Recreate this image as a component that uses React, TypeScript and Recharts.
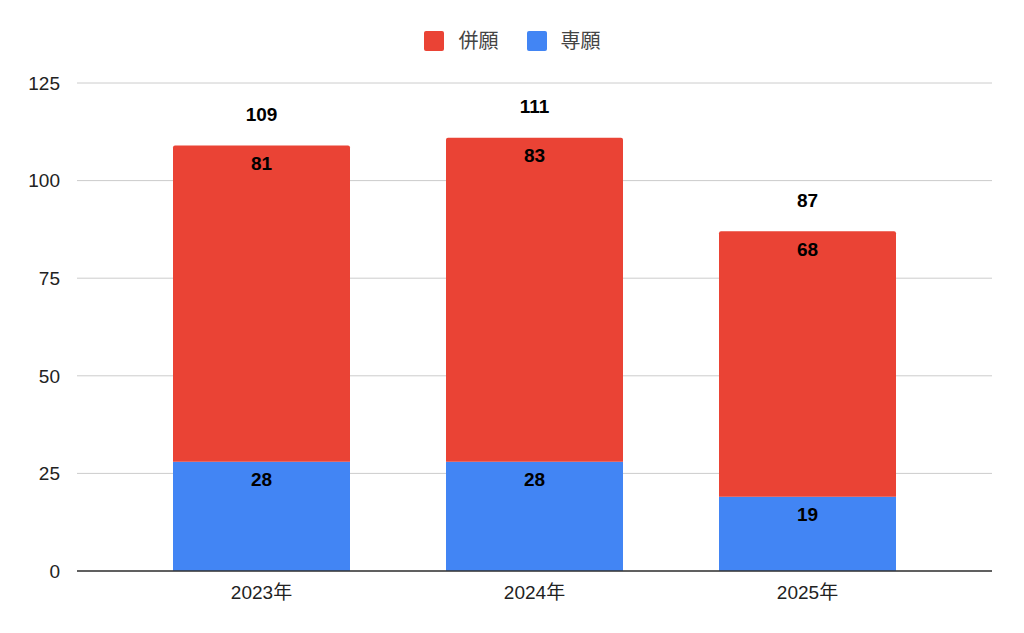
import { BarChart, Bar, XAxis, YAxis, CartesianGrid, LabelList } from 'recharts';

const years = ['2023年', '2024年', '2025年'];
const senGan = [28, 28, 19];
const heiGan = [81, 83, 68];
const yTicks = [0, 25, 50, 75, 100, 125];

const data = years.map((year, i) => ({
  year,
  senGan: senGan[i],
  heiGan: heiGan[i],
  total: senGan[i] + heiGan[i],
}));

const RED = '#EA4335';
const BLUE = '#4285F4';
const FONT = '"Liberation Sans", Arial, "Noto Sans CJK JP", sans-serif';

const LegendBox = () => (
  <div style={{ position: 'absolute', top: 29, left: 0, width: 1024, display: 'flex', justifyContent: 'center', alignItems: 'center', fontFamily: FONT, fontSize: 20, color: '#444', lineHeight: '24px' }}>
    <span style={{ width: 20, height: 20, background: RED, borderRadius: 2, display: 'inline-block', marginRight: 15 }} />
    <span style={{ marginRight: 28 }}>併願</span>
    <span style={{ width: 20, height: 20, background: BLUE, borderRadius: 2, display: 'inline-block', marginRight: 14 }} />
    <span>専願</span>
  </div>
);

const TotalLabel = (props: any) => {
  const { x, y, width, index } = props;
  return (
    <text x={x + width / 2} y={y - 31} textAnchor="middle" dominantBaseline="central" fontSize={19} fontWeight="bold" fill="#000">
      {data[index].total}
    </text>
  );
};

export default function App() {
  return (
    <div style={{ position: 'absolute', left: 0, top: 0, width: 1024, height: 633, background: '#fff' }}>
      <BarChart
        width={1024}
        height={633}
        data={data}
        margin={{ top: 83, right: 32, left: 0, bottom: 0 }}
        style={{ fontFamily: FONT }}
      >
        <CartesianGrid vertical={false} stroke="#cccccc" />
        <XAxis
          dataKey="year"
          height={62}
          padding={{ left: 48, right: 48 }}
          tickLine={false}
          axisLine={{ stroke: '#333', strokeWidth: 1.5 }}
          tick={{ fill: '#222', fontSize: 19 }}
          tickMargin={9}
        />
        <YAxis
          width={77}
          domain={[0, 125]}
          ticks={yTicks}
          axisLine={false}
          tickLine={false}
          tick={{ fill: '#222', fontSize: 19 }}
          tickMargin={11}
        />
        <Bar dataKey="senGan" name="専願" stackId="a" fill={BLUE} barSize={177} isAnimationActive={false}>
          <LabelList dataKey="senGan" position="insideTop" offset={11} fill="#000" fontSize={19} fontWeight="bold" />
        </Bar>
        <Bar dataKey="heiGan" name="併願" stackId="a" fill={RED} barSize={177} radius={[2, 2, 0, 0]} isAnimationActive={false}>
          <LabelList dataKey="heiGan" position="insideTop" offset={11} fill="#000" fontSize={19} fontWeight="bold" />
          <LabelList dataKey="total" content={<TotalLabel />} />
        </Bar>
      </BarChart>
      <LegendBox />
    </div>
  );
}
